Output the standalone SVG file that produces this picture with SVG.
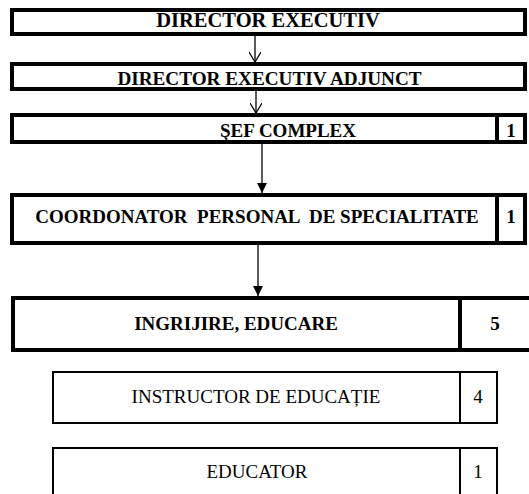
<svg xmlns="http://www.w3.org/2000/svg" width="529" height="494" viewBox="0 0 529 494">
<style>
.thick{fill:#fff;stroke:#000;stroke-width:4}
.thin{fill:#fff;stroke:#000;stroke-width:2}
.b{font-family:"Liberation Serif","Times New Roman",serif;font-weight:bold;font-size:19px;fill:#000;text-anchor:middle}
.r{font-family:"Liberation Serif","Times New Roman",serif;font-size:19px;fill:#000;text-anchor:middle}
.c{stroke:#000;stroke-width:1.3;fill:none}
</style>
<defs>
<marker id="open" markerWidth="12" markerHeight="12" refX="10" refY="6" orient="auto" markerUnits="userSpaceOnUse">
<path d="M0,0 L10,6 L0,12" fill="none" stroke="#000" stroke-width="1.2"/>
</marker>
<marker id="solid" markerWidth="12" markerHeight="10" refX="10" refY="5" orient="auto" markerUnits="userSpaceOnUse">
<path d="M0,0 L10,5 L0,10 Z" fill="#000"/>
</marker>
</defs>
<g id="n1">
<rect class="thick" x="12" y="10" width="513" height="24"/>
<text class="b" x="268" y="27" style="font-size:20.5px">DIRECTOR EXECUTIV</text>
</g>
<g id="n2">
<rect class="thick" x="12" y="64" width="513" height="25"/>
<text class="b" x="269.5" y="85" style="font-size:19.2px">DIRECTOR EXECUTIV ADJUNCT</text>
</g>
<g id="n3">
<rect class="thick" x="12" y="115" width="513" height="27"/>
<line class="thick" x1="497" y1="115" x2="497" y2="142"/>
<text class="b" x="288" y="137">ŞEF COMPLEX</text>
<text class="b" x="511" y="137">1</text>
</g>
<g id="n4">
<rect class="thick" x="12" y="195" width="513" height="48"/>
<line class="thick" x1="497" y1="195" x2="497" y2="243"/>
<text class="b" x="257" y="223" xml:space="preserve">COORDONATOR  PERSONAL  DE SPECIALITATE</text>
<text class="b" x="511" y="223">1</text>
</g>
<g id="n5">
<rect class="thick" x="13" y="298" width="522" height="52"/>
<line class="thick" x1="460" y1="298" x2="460" y2="350"/>
<text class="b" x="236" y="330">INGRIJIRE, EDUCARE</text>
<text class="b" x="495" y="330">5</text>
</g>
<g id="n6">
<rect class="thin" x="53" y="372" width="444" height="51"/>
<line class="thin" x1="460" y1="372" x2="460" y2="423"/>
<text class="r" x="256" y="403">INSTRUCTOR DE EDUCAȚIE</text>
<text class="r" x="478" y="403">4</text>
</g>
<g id="n7">
<rect class="thin" x="53" y="448" width="444" height="60"/>
<line class="thin" x1="460" y1="448" x2="460" y2="508"/>
<text class="r" x="257" y="478">EDUCATOR</text>
<text class="r" x="478" y="478">1</text>
</g>
<g id="connectors">
<line class="c" x1="255" y1="36" x2="255" y2="62" marker-end="url(#open)"/>
<line class="c" x1="256" y1="91" x2="256" y2="113" marker-end="url(#open)"/>
<line class="c" x1="262" y1="144" x2="262" y2="193" marker-end="url(#solid)"/>
<line class="c" x1="258" y1="245" x2="258" y2="296" marker-end="url(#solid)"/>
</g>
</svg>
